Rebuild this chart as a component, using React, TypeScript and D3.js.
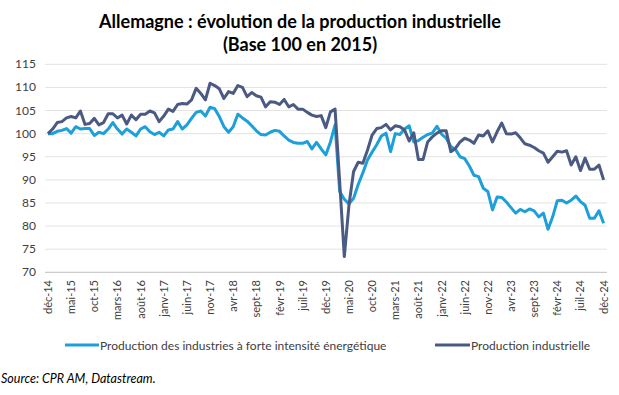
import React from "react";
import * as d3 from "d3";

// monthly index, déc-14 .. déc-24 (121 months)
const tickLabels = [
  "déc-14", "mai-15", "oct-15", "mars-16", "août-16", "janv-17", "juin-17",
  "nov-17", "avr-18", "sept-18", "févr-19", "juil-19", "déc-19", "mai-20",
  "oct-20", "mars-21", "août-21", "janv-22", "juin-22", "nov-22", "avr-23",
  "sept-23", "févr-24", "juil-24", "déc-24",
];

const yTicks = [70, 75, 80, 85, 90, 95, 100, 105, 110, 115];

// Production des industries à forte intensité énergétique
const energyIntensive = [
  100.0, 100.0, 100.5, 100.7, 101.1, 100.1, 101.5, 101.0, 101.1, 101.1,
  99.6, 100.3, 100.0, 101.0, 102.4, 101.0, 99.9, 101.0, 100.3, 99.5,
  101.0, 101.5, 100.4, 99.8, 100.3, 99.5, 100.8, 101.0, 102.6, 101.0,
  101.9, 103.3, 104.6, 104.9, 103.8, 105.7, 105.4, 103.7, 101.5, 100.3,
  101.5, 104.2, 103.4, 102.7, 101.7, 100.6, 99.8, 99.7, 100.3, 100.7,
  100.5, 99.5, 98.6, 98.1, 97.9, 97.9, 98.3, 96.7, 98.1, 96.7,
  95.4, 98.2, 101.9, 87.5, 85.8, 84.8, 86.0, 89.0, 91.5, 94.3,
  96.0, 97.6, 99.5, 100.1, 96.1, 100.0, 99.8, 101.0, 101.7, 98.2,
  98.5, 99.2, 99.8, 100.1, 101.6, 99.9, 99.0, 97.2, 96.6, 95.0,
  94.6, 93.0, 91.0, 90.7, 88.2, 87.5, 83.5, 86.3, 86.2, 85.2,
  84.0, 82.8, 83.6, 83.1, 83.7, 83.3, 82.0, 82.8, 79.3, 82.0,
  85.5, 85.6, 85.0, 85.6, 86.5, 85.3, 84.5, 81.7, 81.7, 83.3,
  80.6,
];

// Production industrielle
const industrial = [
  100.0, 101.0, 102.4, 102.6, 103.4, 103.7, 103.4, 104.9, 102.0, 102.2,
  103.3, 101.9, 102.4, 104.3, 104.3, 103.4, 104.0, 102.1, 104.0, 103.0,
  104.2, 104.2, 104.9, 104.5, 102.6, 103.8, 105.3, 104.8, 106.3, 106.5,
  106.4, 107.3, 109.8, 108.7, 107.3, 110.9, 110.4, 109.7, 107.6, 109.1,
  108.7, 110.4, 110.0, 108.0, 108.9, 108.2, 107.9, 105.8, 106.9, 106.8,
  106.3, 107.4, 105.8, 106.3, 105.3, 105.3, 104.6, 104.0, 103.7, 103.9,
  101.3, 104.7, 105.3, 89.5, 73.4, 84.5, 91.8, 93.8, 93.6, 96.4,
  99.7, 101.1, 101.3, 102.0, 100.8, 101.7, 101.5, 100.8, 98.4, 100.2,
  94.4, 94.4, 98.2, 99.3, 100.1, 100.6, 100.6, 96.1, 96.8, 98.2,
  99.0, 98.6, 97.9, 99.7, 99.5, 100.6, 98.2, 100.4, 102.3, 100.0,
  99.9, 100.2, 99.1, 97.8, 97.5, 97.0, 96.3, 95.8, 93.8, 95.0,
  96.2, 96.0, 96.3, 93.2, 95.0, 92.0, 94.7, 92.3, 92.3, 93.2,
  90.0,
];

const W = 619;
const H = 395;
const LIGHT = "#1d9fd9";
const DARK = "#4a5a82";
const FONT = "Lato, 'Open Sans', sans-serif";

export default function App() {
  const x = d3.scaleLinear().domain([0, 120]).range([48, 603.6]);
  const y = d3.scaleLinear().domain([70, 115]).range([272.3, 64.3]);

  const line = d3
    .line<number>()
    .x((_, i) => x(i))
    .y((d) => y(d));

  return (
    <svg
      width={W}
      height={H}
      style={{ position: "absolute", left: 0, top: 0, background: "#fff" }}
      fontFamily={FONT}
    >
      <text x={300} y={28} textAnchor="middle" fontSize={18} fontWeight="bold" fill="#000">
        Allemagne : évolution de la production industrielle
      </text>
      <text x={300} y={51} textAnchor="middle" fontSize={18} fontWeight="bold" fill="#000">
        (Base 100 en 2015)
      </text>

      {/* grid + y labels */}
      {yTicks.map((t) => (
        <g key={t}>
          {t !== 70 && (
            <line x1={45} x2={607} y1={y(t)} y2={y(t)} stroke="#e3e3e3" strokeWidth={1} />
          )}
          <text x={36} y={y(t) + 4} textAnchor="end" fontSize={12} fill="#404040">
            {t}
          </text>
        </g>
      ))}
      <line x1={45} x2={607} y1={y(70)} y2={y(70)} stroke="#bfbfbf" strokeWidth={1} />

      {/* x labels */}
      {tickLabels.map((lab, k) => (
        <text
          key={lab}
          transform={`translate(${x(k * 5) + 4},280) rotate(-90)`}
          textAnchor="end"
          fontSize={11}
          fill="#404040"
        >
          {lab}
        </text>
      ))}

      <path d={line(energyIntensive) ?? ""} fill="none" stroke={LIGHT} strokeWidth={3} strokeLinejoin="round" />
      <path d={line(industrial) ?? ""} fill="none" stroke={DARK} strokeWidth={3} strokeLinejoin="round" />

      {/* legend */}
      <line x1={65} x2={99} y1={345} y2={345} stroke={LIGHT} strokeWidth={3} />
      <text x={100} y={349.5} fontSize={12} fill="#404040">
        Production des industries à forte intensité énergétique
      </text>
      <line x1={435} x2={470} y1={345} y2={345} stroke={DARK} strokeWidth={3} />
      <text x={471} y={349.5} fontSize={12} fill="#404040">
        Production industrielle
      </text>

      <text x={1} y={383} fontSize={12.5} fontStyle="italic" fill="#000">
        Source: CPR AM, Datastream.
      </text>
    </svg>
  );
}
